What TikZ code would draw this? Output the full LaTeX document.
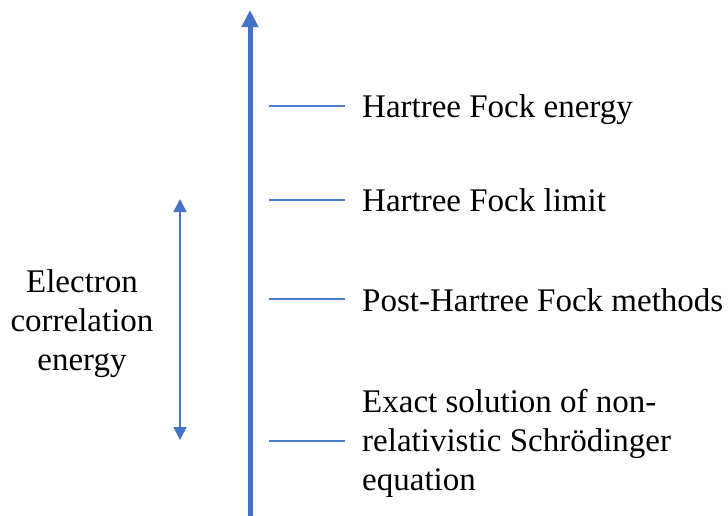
\documentclass[tikz,border=0pt]{standalone}
\usepackage{fontspec}
\setmainfont{Liberation Serif}
\usetikzlibrary{arrows.meta}
\definecolor{axisblue}{HTML}{4472C4}
\definecolor{tickblue}{HTML}{4A7BD0}
\begin{document}
\begin{tikzpicture}[x=1pt,y=-1pt,
  lbl/.style={inner sep=0pt,anchor=base west,font=\fontsize{33}{39}\selectfont,align=left},
  ticklin/.style={draw=tickblue,line width=1.2pt},
  mainax/.style={draw=axisblue,line width=5pt,-{Triangle[width=16pt,length=17pt]}},
  corr/.style={draw=axisblue,line width=1.5pt,{Triangle[width=13pt,length=13pt]}-{Triangle[width=13pt,length=13pt]}}]
\useasboundingbox (0,0) rectangle (728,515);
\coordinate (axB) at (250,516);
\coordinate (axT) at (250,10);
\draw[mainax] (axB) -- (axT);
\foreach \n/\y in {a/106,b/200,c/299,d/441}{
  \coordinate (t\n1) at (269,\y);
  \coordinate (t\n2) at (345,\y);
  \draw[ticklin] (t\n1) -- (t\n2);
}
\node[lbl] (la) at (362,117) {Hartree Fock energy};
\node[lbl] (lb) at (362,211) {Hartree Fock limit};
\node[lbl] (lc) at (362,311) {Post-Hartree Fock methods};
\node[lbl] (ld) at (362,490) {Exact solution of non-\\relativistic Schrödinger\\equation};
\coordinate (cT) at (180,199);
\coordinate (cB) at (180,440);
\draw[corr] (cB) -- (cT);
\node[inner sep=0pt,font=\fontsize{33}{39}\selectfont,align=center,anchor=base] (le) at (82,370) {Electron\\correlation\\energy};
\end{tikzpicture}
\end{document}
